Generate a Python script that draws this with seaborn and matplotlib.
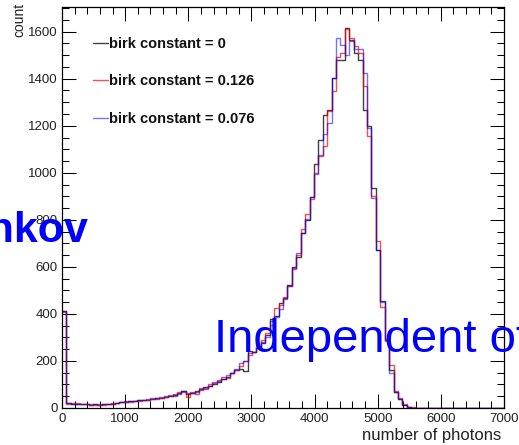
import numpy as np
import pandas as pd
import matplotlib
matplotlib.use("Agg")
import matplotlib.pyplot as plt
from matplotlib.ticker import MultipleLocator
import seaborn as sns

# Histogram binning: 100 bins of 70 photons between 0 and 7000
bin_width = 70
n_bins = 100

# Bin contents for each Birks constant
counts_birk_0 = [
    412, 20, 19, 18, 17, 15, 14, 15, 14, 16,
    17, 18, 22, 24, 27, 28, 30, 33, 35, 36,
    40, 42, 43, 47, 50, 55, 62, 74, 60, 64,
    72, 80, 88, 95, 103, 112, 122, 133, 147, 160,
    165, 158, 243, 240, 256, 275, 310, 378, 392, 445,
    468, 525, 598, 640, 745, 800, 897, 1036, 1140, 1245,
    1268, 1404, 1480, 1478, 1617, 1566, 1509, 1478, 1268, 1197,
    936, 672, 455, 290, 160, 70, 40, 14, 5, 2,
    0, 0, 0, 0, 0, 0, 0, 0, 0, 0,
    0, 0, 0, 0, 0, 0, 0, 0, 0, 0,
]
counts_birk_0126 = [
    410, 18, 22, 23, 18, 15, 13, 12, 14, 13,
    16, 19, 21, 25, 24, 27, 31, 30, 36, 35,
    40, 44, 41, 48, 50, 58, 66, 70, 48, 70,
    60, 85, 82, 100, 108, 118, 130, 128, 148, 160,
    180, 200, 225, 240, 262, 290, 318, 355, 425, 440,
    472, 520, 590, 651, 760, 826, 890, 1000, 1070, 1112,
    1264, 1346, 1491, 1509, 1610, 1575, 1540, 1509, 1367, 1155,
    900, 708, 430, 285, 183, 72, 43, 15, 6, 3,
    1, 0, 0, 0, 0, 0, 0, 0, 0, 0,
    0, 0, 0, 0, 0, 0, 0, 0, 0, 0,
]
counts_birk_0076 = [
    414, 20, 19, 17, 16, 15, 16, 15, 16, 17,
    18, 20, 22, 26, 28, 29, 31, 34, 33, 38,
    41, 40, 45, 50, 55, 52, 58, 74, 65, 62,
    70, 78, 85, 92, 112, 115, 125, 140, 150, 165,
    191, 200, 234, 236, 255, 282, 300, 370, 387, 420,
    462, 519, 596, 660, 745, 804, 897, 995, 1077, 1165,
    1212, 1404, 1573, 1545, 1500, 1560, 1528, 1528, 1424, 1190,
    894, 672, 452, 295, 149, 68, 40, 12, 4, 1,
    0, 0, 0, 0, 0, 0, 0, 0, 0, 0,
    0, 0, 0, 0, 0, 0, 0, 0, 0, 0,
]

series_labels = ["birk constant = 0", "birk constant = 0.126", "birk constant = 0.076"]
series_counts = [counts_birk_0, counts_birk_0126, counts_birk_0076]
series_colors = ["#000000", "#ff0000", "#0000ff"]
series_alpha = [0.75, 0.7, 0.55]

x_ticks = [0, 1000, 2000, 3000, 4000, 5000, 6000, 7000]
y_ticks = [0, 200, 400, 600, 800, 1000, 1200, 1400, 1600]

centers = np.arange(n_bins) * bin_width + bin_width / 2

sns.set_theme(style="ticks")
plt.rcParams["font.family"] = ["Liberation Sans", "DejaVu Sans"]

W, H = 519, 445
fig = plt.figure(figsize=(W / 100, H / 100), dpi=100)
ax = fig.add_axes([62 / W, 37 / H, 442 / W, 401 / H])

handles = []
for label, counts, color, alpha in zip(series_labels, series_counts, series_colors, series_alpha):
    df = pd.DataFrame({"photons": centers, "count": counts})
    sns.histplot(data=df, x="photons", weights="count",
                 binwidth=bin_width, binrange=(0, n_bins * bin_width),
                 element="step", fill=False, color=color, alpha=alpha,
                 linewidth=1.0, ax=ax)
    handles.append(ax.lines[-1])

ax.set_xlim(0, 7000)
ax.set_ylim(0, 1705)
ax.set_xticks(x_ticks)
ax.set_yticks(y_ticks)
ax.xaxis.set_minor_locator(MultipleLocator(200))
ax.yaxis.set_minor_locator(MultipleLocator(50))
ax.tick_params(which="both", direction="in", top=True, right=True,
               width=0.75, color="black", labelsize=9.5, labelcolor="#222222")
ax.tick_params(which="major", length=10)
ax.tick_params(which="minor", length=5)
ax.tick_params(axis="x", pad=3.4)
ax.tick_params(axis="y", pad=3.0)
ax.set_xlabel("")
ax.set_ylabel("")
for sp in ax.spines.values():
    sp.set_visible(True)
    sp.set_linewidth(0.9)
    sp.set_color("black")

# Axis titles in the ROOT placement: y title at the top, x title at the right
fig.text(19 / W, 1 - 3 / H, "count", rotation=90, ha="center", va="top", fontsize=10, color="#222222")
fig.text(501 / W, 1 - 440 / H, "number of photons", ha="right", va="baseline", fontsize=12, color="#222222")

leg = ax.legend(handles, series_labels, loc="upper left",
                bbox_to_anchor=(93 / W, 1 - 37 / H), bbox_transform=fig.transFigure,
                frameon=False, prop={"weight": "bold", "size": 10.5},
                handlelength=1.0, handletextpad=0.12, labelspacing=1.6,
                borderpad=0, borderaxespad=0)
for t in leg.get_texts():
    t.set_color("#111111")

# Slide annotations overlaid on the plot
fig.text(88 / W, 1 - 241.5 / H, "Cherenkov", ha="right", va="baseline",
         fontsize=31, fontweight="bold", color="#0000ff")
fig.text(214 / W, 1 - 352 / H, "Independent of", ha="left", va="baseline",
         fontsize=34, color="#0000ff")

fig.savefig("out.png", dpi=100)
